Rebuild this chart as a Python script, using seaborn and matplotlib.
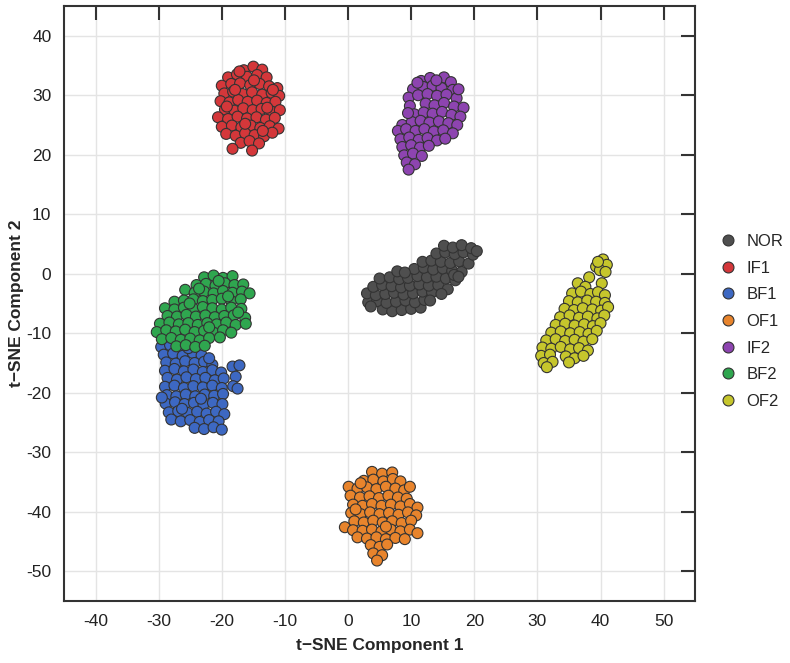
import pandas as pd
import seaborn as sns
import matplotlib.pyplot as plt

# t-SNE embedding, points (x, y) per class
nor_pts = [
    (5.5, -6.0), (7.0, -6.3), (8.5, -6.1), (10.0, -5.9), (11.5, -5.7),
    (3.2, -4.8), (4.6, -4.6), (6.1, -4.9), (7.6, -4.7), (9.1, -4.5), (10.6, -4.8), (12.1, -4.4),
    (3.0, -3.3), (4.4, -3.6), (5.9, -3.4), (7.3, -3.2), (8.8, -3.5), (10.3, -3.3), (11.8, -3.0), (13.3, -3.1),
    (4.0, -2.2), (5.4, -1.9), (6.9, -2.1), (8.4, -2.3), (9.8, -2.0), (11.3, -1.8), (12.8, -2.0), (14.3, -1.9), (15.8, -2.6),
    (5.0, -0.8), (6.6, -0.6), (8.1, -0.9), (9.5, -0.7), (11.0, -0.4), (12.5, -0.6), (14.0, -0.5), (15.5, -0.8), (17.0, -1.1),
    (7.8, 0.4), (10.5, 0.8), (12.0, 1.0), (13.5, 0.7), (15.0, 0.9), (16.5, 0.5), (18.0, 0.3),
    (11.8, 2.0), (13.2, 2.2), (14.7, 2.0), (16.2, 1.8), (17.6, 2.1), (19.1, 1.7),
    (14.0, 3.4), (15.4, 3.6), (16.9, 3.3), (18.3, 3.6), (19.8, 3.2),
    (15.2, 4.7), (16.6, 4.4), (18.0, 4.8), (19.5, 4.3),
    (20.4, 3.8), (16.8, -0.2), (3.6, -5.5), (13.0, -4.5), (14.8, -3.4), (9.0, 0.2), (17.5, -0.5),
]
if1_pts = [
    (-16.5, 34.2), (-15.0, 34.8), (-13.6, 34.3),
    (-19.0, 33.0), (-17.6, 33.5), (-16.0, 33.1), (-14.4, 33.4), (-12.9, 33.0),
    (-20.0, 31.6), (-18.5, 31.9), (-17.1, 32.0), (-15.5, 31.7), (-14.0, 31.9), (-12.5, 31.5), (-11.2, 31.2),
    (-19.6, 30.3), (-18.2, 30.6), (-16.7, 30.2), (-15.2, 30.5), (-13.6, 30.1), (-12.1, 30.4), (-10.9, 29.9),
    (-20.2, 29.0), (-18.8, 28.8), (-17.4, 29.2), (-15.9, 28.9), (-14.4, 29.1), (-12.9, 28.7), (-11.5, 28.9),
    (-19.5, 27.6), (-18.0, 27.4), (-16.6, 27.8), (-15.1, 27.5), (-13.7, 27.7), (-12.2, 27.3), (-10.8, 27.5),
    (-20.6, 26.3), (-19.0, 26.0), (-17.5, 26.4), (-16.0, 26.1), (-14.5, 26.3), (-13.0, 25.9), (-11.6, 26.2),
    (-20.0, 24.7), (-18.4, 24.9), (-16.9, 24.6), (-15.4, 24.9), (-13.9, 24.5), (-12.4, 24.8), (-11.0, 24.4),
    (-19.3, 23.5), (-17.8, 23.2), (-16.3, 23.6), (-14.8, 23.3), (-13.3, 23.1), (-12.0, 23.7),
    (-17.0, 22.0), (-15.6, 22.3), (-14.1, 21.9),
    (-18.3, 21.0), (-15.2, 20.7),
    (-17.9, 30.9), (-14.9, 32.5), (-12.8, 27.9), (-16.3, 25.2), (-19.2, 28.1), (-13.5, 24.0), (-11.9, 30.9), (-17.2, 34.0),
]
bf1_pts = [
    (-29.6, -12.3), (-28.2, -12.0), (-26.7, -12.6),
    (-29.2, -13.6), (-27.7, -13.4), (-26.2, -13.8), (-24.6, -13.3), (-23.2, -13.7),
    (-28.8, -14.9), (-27.3, -15.1), (-25.8, -14.7), (-24.3, -15.0), (-22.8, -14.8), (-21.5, -15.3),
    (-29.0, -16.3), (-27.5, -16.0), (-26.0, -16.4), (-24.5, -16.1), (-23.0, -16.5), (-21.5, -16.2), (-20.1, -16.6), (-18.3, -15.6), (-17.2, -15.4),
    (-28.6, -17.5), (-27.1, -17.8), (-25.6, -17.4), (-24.1, -17.7), (-22.6, -17.5), (-21.1, -17.9), (-19.7, -17.6), (-17.8, -17.3),
    (-29.0, -19.0), (-27.5, -18.8), (-26.0, -19.2), (-24.5, -18.9), (-23.0, -19.1), (-21.5, -18.8), (-20.0, -19.2), (-18.2, -18.9),
    (-28.7, -20.4), (-27.2, -20.6), (-25.7, -20.3), (-24.2, -20.6), (-22.7, -20.3), (-21.2, -20.5), (-19.8, -20.2),
    (-28.9, -21.8), (-27.4, -21.6), (-25.9, -21.9), (-24.4, -21.7), (-22.9, -22.0), (-21.4, -21.7), (-19.9, -21.9),
    (-28.4, -23.3), (-26.9, -23.1), (-25.4, -23.4), (-23.9, -23.2), (-22.4, -23.5), (-20.9, -23.2), (-19.6, -23.6),
    (-28.0, -24.5), (-26.5, -24.8), (-25.0, -24.6), (-23.5, -24.9), (-22.0, -24.6), (-20.5, -24.8),
    (-24.3, -25.9), (-22.8, -26.1), (-21.3, -25.8), (-20.0, -26.2),
    (-25.3, -12.5), (-22.0, -14.2), (-17.5, -19.3), (-29.5, -20.8), (-26.3, -22.7), (-23.3, -21.0),
]
of1_pts = [
    (3.8, -33.3), (5.4, -33.6), (7.0, -33.4),
    (2.5, -34.8), (4.0, -34.6), (5.6, -34.9), (7.1, -34.5), (8.3, -34.9),
    (0.1, -35.8), (1.5, -36.1), (3.0, -35.9), (4.5, -36.2), (6.0, -35.8), (7.5, -36.1), (8.9, -36.4),
    (0.4, -37.3), (1.9, -37.6), (3.4, -37.4), (4.9, -37.7), (6.4, -37.3), (7.9, -37.6), (9.3, -37.8),
    (0.8, -38.8), (2.3, -39.0), (3.8, -38.7), (5.3, -39.0), (6.8, -38.8), (8.3, -39.1), (9.8, -38.7), (11.0, -39.3),
    (0.5, -40.2), (2.0, -40.4), (3.5, -40.1), (5.0, -40.4), (6.5, -40.2), (8.0, -40.5), (9.5, -40.1), (10.8, -40.6),
    (1.0, -41.6), (2.5, -41.8), (4.0, -41.5), (5.5, -41.8), (7.0, -41.6), (8.5, -41.9), (10.0, -41.5),
    (-0.5, -42.6), (0.8, -43.1), (2.3, -43.2), (3.8, -43.0), (5.3, -43.3), (6.8, -43.0), (8.3, -43.3), (9.8, -43.0), (11.0, -43.6),
    (1.5, -44.3), (3.0, -44.5), (4.5, -44.3), (6.0, -44.6), (7.5, -44.4), (9.0, -44.6),
    (3.6, -45.6), (5.0, -45.9), (6.2, -45.5), (4.0, -47.0), (5.4, -47.3), (4.6, -48.2),
    (2.0, -35.2), (9.8, -35.8), (6.0, -42.5), (1.2, -39.6),
]
if2_pts = [
    (11.6, 32.4), (13.0, 32.9), (15.2, 33.0), (16.3, 32.2),
    (10.3, 31.0), (11.9, 31.4), (13.4, 31.6), (14.8, 31.2), (16.6, 30.9),
    (9.6, 29.6), (11.1, 30.0), (12.6, 30.2), (14.1, 29.9), (15.6, 30.1), (17.2, 29.5),
    (9.8, 28.2), (12.3, 28.6), (13.7, 28.3), (15.2, 28.7), (16.8, 28.1), (18.3, 27.9),
    (10.5, 26.8), (12.0, 27.1), (13.4, 26.9), (14.9, 27.2), (16.4, 26.7), (17.8, 26.4),
    (8.6, 25.0), (10.1, 25.5), (11.5, 25.7), (12.9, 25.4), (14.4, 25.6), (15.9, 25.3), (17.3, 25.0),
    (7.9, 24.0), (9.2, 24.3), (10.7, 24.0), (12.1, 24.3), (13.6, 23.9), (15.1, 24.1), (16.6, 23.6),
    (8.3, 22.6), (9.7, 22.9), (11.2, 22.5), (12.6, 22.8), (14.1, 22.4), (15.4, 22.7),
    (8.6, 21.3), (10.0, 21.6), (11.4, 21.2), (12.8, 21.5),
    (8.9, 19.9), (10.3, 20.2), (11.7, 19.8),
    (9.3, 18.7), (10.6, 18.4), (9.6, 17.5),
    (11.0, 32.1), (14.0, 32.5), (9.5, 27.0), (17.5, 31.0),
]
bf2_pts = [
    (-22.8, -0.6), (-21.3, -0.3), (-19.8, -0.7), (-18.3, -0.4),
    (-24.0, -1.9), (-22.5, -1.7), (-21.0, -2.0), (-19.5, -1.6), (-18.0, -1.9), (-16.6, -1.8),
    (-25.8, -2.7), (-24.3, -3.2), (-22.8, -3.0), (-21.3, -3.3), (-19.8, -2.9), (-18.3, -3.2), (-16.8, -3.0), (-15.6, -3.3),
    (-27.5, -4.7), (-26.0, -4.5), (-24.5, -4.3), (-23.0, -4.6), (-21.5, -4.4), (-20.0, -4.2), (-18.5, -4.6), (-17.0, -4.3),
    (-29.0, -5.8), (-27.5, -6.0), (-26.0, -5.7), (-24.5, -5.9), (-23.0, -5.6), (-21.5, -5.8), (-20.0, -6.0), (-18.5, -5.7), (-16.9, -5.9),
    (-28.6, -7.1), (-27.1, -7.2), (-25.6, -6.9), (-24.1, -7.2), (-22.6, -7.0), (-21.1, -7.3), (-19.6, -7.1), (-18.1, -7.0), (-16.3, -7.4),
    (-29.8, -8.4), (-28.3, -8.2), (-26.8, -8.5), (-25.3, -8.3), (-23.8, -8.6), (-22.3, -8.3), (-20.8, -8.5), (-19.3, -8.2), (-17.8, -8.6), (-16.2, -8.4),
    (-30.3, -9.8), (-28.8, -9.5), (-27.3, -9.7), (-25.8, -9.4), (-24.3, -9.8), (-22.8, -9.6), (-21.3, -9.9), (-19.8, -9.5), (-18.5, -9.9),
    (-29.5, -11.0), (-28.0, -10.8), (-26.5, -11.1), (-25.0, -10.9), (-23.5, -11.2), (-22.0, -10.8), (-20.3, -10.7),
    (-27.2, -12.2), (-25.7, -12.0), (-24.2, -12.3), (-22.7, -12.1),
    (-20.5, -1.2), (-23.6, -2.5), (-17.4, -6.5), (-25.1, -5.0), (-19.0, -3.8), (-22.0, -9.0),
]
of2_pts = [
    (39.3, 1.2), (40.4, 2.4), (41.0, 1.5), (39.9, 0.6), (40.8, 0.3), (39.6, 2.0),
    (38.2, -0.6), (40.2, -1.6), (36.4, -1.6), (37.6, -2.2),
    (35.5, -3.3), (36.9, -3.0), (38.4, -3.4), (39.6, -3.1), (40.7, -3.6),
    (35.0, -4.6), (36.4, -4.8), (37.9, -4.5), (39.3, -4.7), (40.7, -4.9),
    (34.3, -5.9), (35.8, -6.1), (37.2, -5.8), (38.7, -6.0), (40.1, -6.2), (41.2, -5.6),
    (33.6, -7.3), (35.1, -7.0), (36.6, -7.4), (38.0, -7.2), (39.5, -7.5), (40.6, -7.0),
    (32.9, -8.6), (34.4, -8.4), (35.9, -8.7), (37.4, -8.5), (38.8, -8.8), (40.0, -8.3),
    (32.2, -9.9), (33.7, -9.7), (35.2, -10.0), (36.7, -9.8), (38.1, -10.1), (39.4, -9.6),
    (31.4, -11.2), (32.9, -11.0), (34.4, -11.3), (35.9, -11.1), (37.3, -11.4), (38.7, -11.0),
    (30.8, -12.4), (32.2, -12.6), (33.7, -12.3), (35.2, -12.7), (36.6, -12.5), (38.0, -12.9),
    (30.6, -13.8), (32.0, -13.6), (34.5, -13.9), (35.9, -14.2), (37.3, -13.8),
    (31.0, -15.0), (32.4, -14.8), (31.5, -15.7), (35.0, -14.9),
]

classes = ['NOR', 'IF1', 'BF1', 'OF1', 'IF2', 'BF2', 'OF2']
colors = ['#4f4f4f', '#d4373a', '#3d68c2', '#e8842c', '#8d44b0', '#2fa64f', '#c6c62c']
groups = [nor_pts, if1_pts, bf1_pts, of1_pts, if2_pts, bf2_pts, of2_pts]

rows = []
for name, pts in zip(classes, groups):
    for x, y in pts:
        rows.append((x, y, name))
df = pd.DataFrame(rows, columns=['c1', 'c2', 'label'])

sns.set_style('whitegrid')
plt.rcParams['font.family'] = ['Liberation Sans', 'DejaVu Sans']
plt.rcParams['axes.unicode_minus'] = False

fig = plt.figure(figsize=(7.9, 6.63), dpi=100)
ax = fig.add_axes([0.081, 0.0935, 0.799, 0.8975])

sns.scatterplot(data=df, x='c1', y='c2', hue='label', hue_order=classes,
                palette=dict(zip(classes, colors)), s=62,
                edgecolor='#333333', linewidth=0.8, ax=ax)

ax.set_xlim(-45, 55)
ax.set_ylim(-55, 45)
ax.set_xticks(range(-40, 51, 10))
ax.set_yticks(range(-50, 41, 10))
ax.grid(True, color='#e4e4e4', linewidth=1)
for sp in ax.spines.values():
    sp.set_color('#333333')
    sp.set_linewidth(1.5)
ax.tick_params(direction='in', length=10, width=1.5, color='#333333',
               top=True, right=True, labelsize=12.5, pad=9, labelcolor='#222222')
ax.set_xlabel('t\u2212SNE Component 1', fontsize=12.5, fontweight='bold', labelpad=7)
ax.set_ylabel('t\u2212SNE Component 2', fontsize=12.5, fontweight='bold', labelpad=2)

sns.move_legend(ax, 'center left', bbox_to_anchor=(1.039, 0.47), frameon=False,
                title=None, fontsize=12, labelspacing=0.7, handletextpad=0.6,
                handlelength=1.0, borderpad=0, borderaxespad=0)

plt.savefig('out.png', dpi=100)
